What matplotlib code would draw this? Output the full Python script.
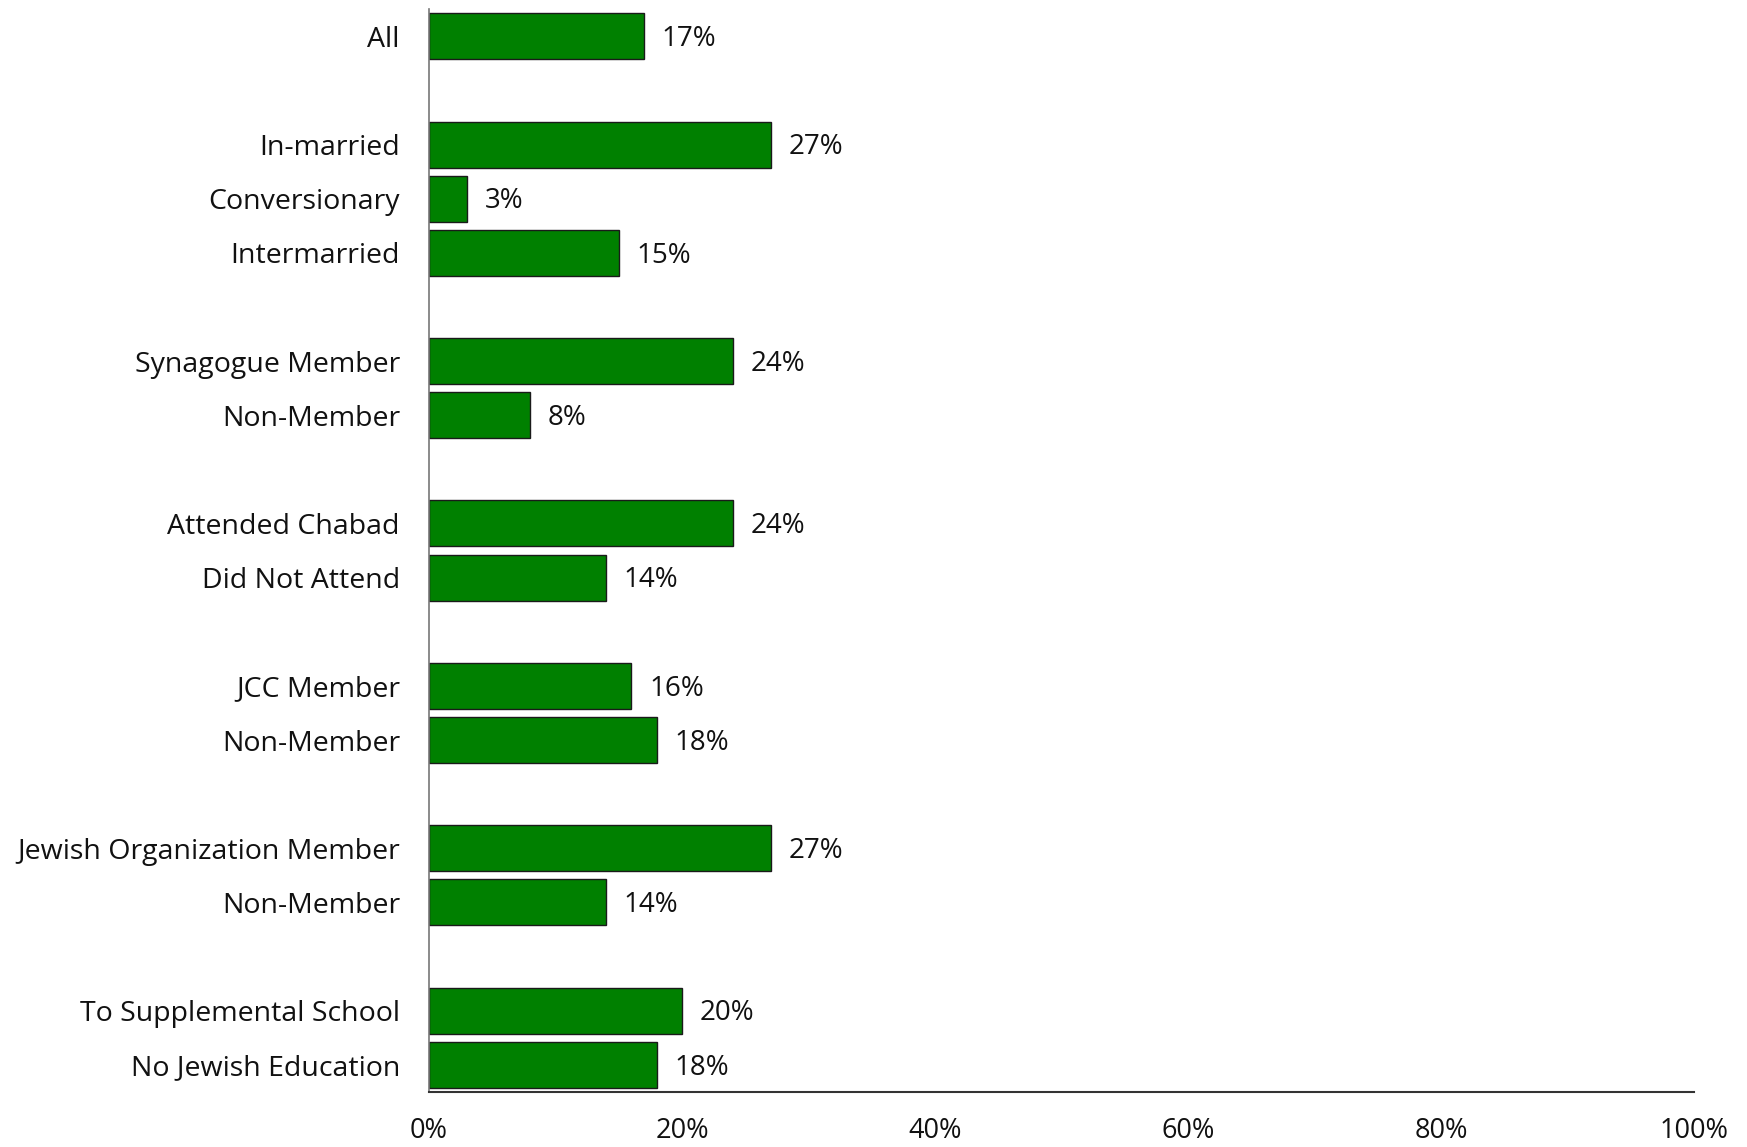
import matplotlib.pyplot as plt
import numpy as np

labels = ["All",
          "In-married", "Conversionary", "Intermarried",
          "Synagogue Member", "Non-Member",
          "Attended Chabad", "Did Not Attend",
          "JCC Member", "Non-Member",
          "Jewish Organization Member", "Non-Member",
          "To Supplemental School", "No Jewish Education"]
values = [17, 27, 3, 15, 24, 8, 24, 14, 16, 18, 27, 14, 20, 18]
# slot of each bar, empty slots separate the groups
slots = [0, 2, 3, 4, 6, 7, 9, 10, 12, 13, 15, 16, 18, 19]
xticks = [0, 20, 40, 60, 80, 100]

plt.rcParams["font.family"] = ["Open Sans", "DejaVu Sans"]

fig = plt.figure(figsize=(17.47, 11.47), dpi=100)
ax = fig.add_axes([0.2456, 0.048, 0.7241, 0.944])

ax.barh(slots, values, height=0.85, color="#008000", edgecolor="#1a1a1a", linewidth=1)
for s, v in zip(slots, values):
    ax.text(v + 1.4, s + 0.05, f"{v}%", va="center", ha="left", fontsize=20, color="#111111")

ax.set_ylim(19.5, -0.5)
ax.set_xlim(0, 100)
ax.set_yticks(slots)
ax.set_yticklabels(labels, fontsize=20.5, color="#111111")
ax.set_xticks(xticks)
ax.set_xticklabels([f"{t}%" for t in xticks], fontsize=19.5, color="#111111")
ax.tick_params(axis="both", length=0)
ax.tick_params(axis="y", pad=21)
ax.tick_params(axis="x", pad=18)

for side in ["top", "right"]:
    ax.spines[side].set_visible(False)
ax.spines["left"].set_color("#777777")
ax.spines["left"].set_linewidth(1.2)
ax.spines["bottom"].set_color("#333333")
ax.spines["bottom"].set_linewidth(1.5)

plt.savefig("out.png", dpi=100)
